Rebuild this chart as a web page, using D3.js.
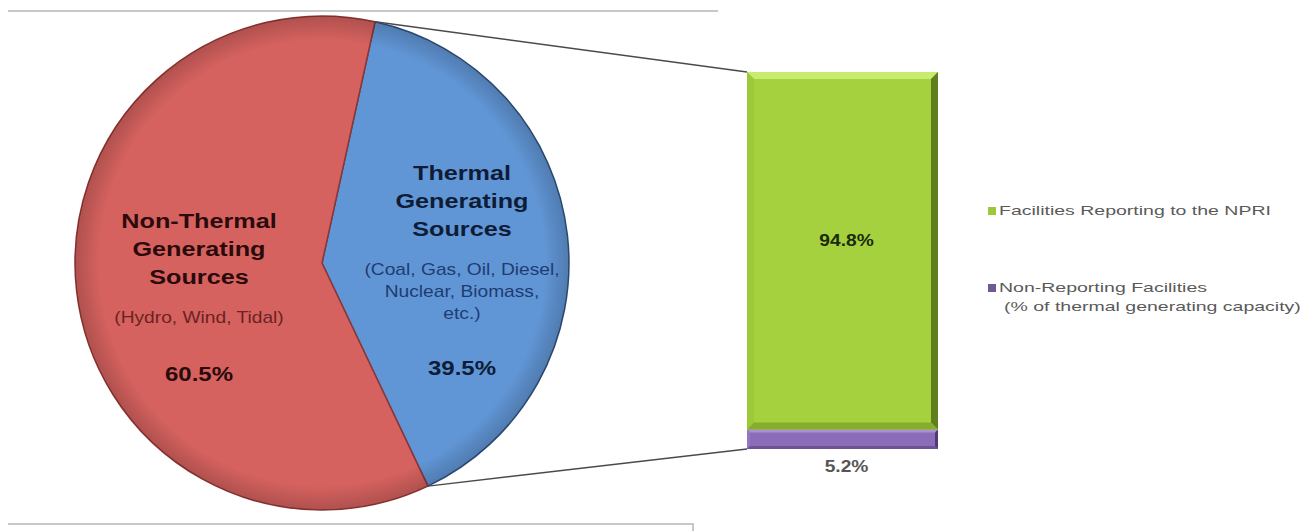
<!DOCTYPE html>
<html>
<head>
<meta charset="utf-8">
<script src="https://cdn.jsdelivr.net/npm/d3@7"></script>
<style>
  body { margin: 0; background: #fff; }
  svg { display: block; }
  text { font-family: "Liberation Sans", Arial, sans-serif; }
</style>
</head>
<body>
<div id="chart"></div>
<script>
// pie: share of generating capacity
const pieCategories = ["Thermal Generating Sources", "Non-Thermal Generating Sources"];
const pieValues = [39.5, 60.5];
const pieNotes = [["(Coal, Gas, Oil, Diesel,", "Nuclear, Biomass,", "etc.)"], ["(Hydro, Wind, Tidal)"]];
const pieTitles = [["Thermal", "Generating", "Sources"], ["Non-Thermal", "Generating", "Sources"]];

// bar: split of thermal capacity (bottom first)
const barCategories = ["Non-Reporting Facilities", "Facilities Reporting to the NPRI"];
const barValues = [5.2, 94.8];
const legendLabels = [["Facilities Reporting to the NPRI"], ["Non-Reporting Facilities", "(% of thermal generating capacity)"]];

function hbar() {
    const width = 1307, height = 531;
    const cx = 322, cy = 263, r = 247;
    const stretch = 1.2;

    const svg = d3.select("#chart").append("svg")
        .attr("width", width)
        .attr("height", height);

    const defs = svg.append("defs");
    const rim = defs.append("radialGradient").attr("id", "rim");
    rim.append("stop").attr("offset", "90%").attr("stop-color", "#000").attr("stop-opacity", 0);
    rim.append("stop").attr("offset", "100%").attr("stop-color", "#000").attr("stop-opacity", 0.18);

    // frame lines
    svg.append("line").attr("x1", 8).attr("x2", 718).attr("y1", 11).attr("y2", 11)
        .attr("stroke", "#c8c8c8").attr("stroke-width", 2);
    svg.append("path").attr("d", "M8,524 H693 V531")
        .attr("fill", "none").attr("stroke", "#c8c8c8").attr("stroke-width", 2);

    const colors = ["#6196d6", "#d6625f"];
    const strokes = ["#2f4f7a", "#8f3634"];
    const start = 12.4 * Math.PI / 180;

    const pie = d3.pie().sort(null).value(d => d)
        .startAngle(start).endAngle(start + 2 * Math.PI);
    const arcs = pie(pieValues);
    const arc = d3.arc().innerRadius(0).outerRadius(r);

    const g = svg.append("g").attr("transform", `translate(${cx},${cy})`);

    g.selectAll("path.slice")
        .data(arcs)
        .enter()
        .append("path")
        .attr("class", "slice")
        .attr("d", arc)
        .attr("fill", (d, i) => colors[i])
        .attr("stroke", (d, i) => strokes[i])
        .attr("stroke-width", 1.5)
        .attr("stroke-linejoin", "round");

    g.append("circle").attr("r", r).attr("fill", "url(#rim)");

    // bar scales
    const x0 = 747, x1 = 938;
    const total = d3.sum(barValues);
    const y = d3.scaleLinear().domain([0, total]).range([449, 72]);
    const stacked = [];
    let acc = 0;
    barValues.forEach((v, i) => { stacked.push({ key: barCategories[i], v: v, y0: acc, y1: acc + v }); acc += v; });

    // connector lines from slice edges to the bar corners
    const th = arcs[0];
    const pt = a => [cx + r * Math.sin(a), cy - r * Math.cos(a)];
    const pa = pt(th.startAngle), pb = pt(th.endAngle);
    svg.append("line").attr("x1", pa[0]).attr("y1", pa[1]).attr("x2", x0).attr("y2", y(total))
        .attr("stroke", "#4a4a4a").attr("stroke-width", 1.5);
    svg.append("line").attr("x1", pb[0]).attr("y1", pb[1]).attr("x2", x0).attr("y2", y(0))
        .attr("stroke", "#4a4a4a").attr("stroke-width", 1.5);

    const barFill = [
        { main: "#8b6cb8", top: "#ab90d2", left: "#9478c0", right: "#4f3a74", bottom: "#6d5396", b: 3 },
        { main: "#a5d13f", top: "#c7ec70", left: "#9cc93a", right: "#5f7f1e", bottom: "#87ac2e", b: 7 }
    ];

    const bars = svg.selectAll("g.seg").data(stacked).enter().append("g").attr("class", "seg");
    bars.each(function(d, i) {
        const s = d3.select(this);
        const c = barFill[i], b = c.b;
        const top = y(d.y1), bot = y(d.y0);
        s.append("rect").attr("x", x0).attr("y", top).attr("width", x1 - x0).attr("height", bot - top)
            .attr("fill", c.main);
        s.append("polygon").attr("points", `${x0},${top} ${x1},${top} ${x1 - b},${top + b} ${x0 + b},${top + b}`)
            .attr("fill", c.top);
        s.append("polygon").attr("points", `${x0},${top} ${x0 + b},${top + b} ${x0 + b},${bot - b} ${x0},${bot}`)
            .attr("fill", c.left);
        s.append("polygon").attr("points", `${x1},${top} ${x1},${bot} ${x1 - b},${bot - b} ${x1 - b},${top + b}`)
            .attr("fill", c.right);
        s.append("polygon").attr("points", `${x0},${bot} ${x1},${bot} ${x1 - b},${bot - b} ${x0 + b},${bot - b}`)
            .attr("fill", c.bottom);
    });

    function label(x, yy, str, size, weight, color, sx) {
        svg.append("text")
            .attr("transform", `translate(${x},${yy}) scale(${sx || stretch},1)`)
            .attr("text-anchor", "middle")
            .attr("font-size", size)
            .attr("font-weight", weight)
            .attr("fill", color)
            .text(str);
    }

    // pie labels
    const textX = [462, 199];
    const titleY = [180, 228];
    const noteY = [275, 323];
    const pctY = [375, 381];
    const titleCol = ["#0e1c36", "#2a0a0a"];
    const noteCol = ["#1e3c72", "#6b2222"];
    arcs.forEach((a, i) => {
        pieTitles[i].forEach((t, j) => label(textX[i], titleY[i] + j * 28, t, 21, "bold", titleCol[i]));
        pieNotes[i].forEach((t, j) => label(textX[i], noteY[i] + j * 22, t, 16, "normal", noteCol[i]));
        label(textX[i], pctY[i], d3.format(".1f")(pieValues[i]) + "%", 20, "bold", titleCol[i]);
    });

    // bar labels
    label((x0 + x1) / 2 + 4, 246, d3.format(".1f")(barValues[1]) + "%", 16, "bold", "#1c2a0c");
    label((x0 + x1) / 2 + 4, 472, d3.format(".1f")(barValues[0]) + "%", 16, "bold", "#555");

    // legend
    const legColors = ["#9bc93a", "#6f5a93"];
    const legY = [215, 292];
    legendLabels.forEach((lines, i) => {
        svg.append("rect").attr("x", 988).attr("y", legY[i] - 8).attr("width", 8).attr("height", 8)
            .attr("fill", legColors[i]);
        lines.forEach((t, j) => {
            svg.append("text")
                .attr("transform", `translate(${j ? 1004 : 999},${legY[i] + j * 19}) scale(1.5,1)`)
                .attr("font-size", 13)
                .attr("fill", "#5a5a5a")
                .text(t);
        });
    });
}
hbar();
</script>
</body>
</html>
